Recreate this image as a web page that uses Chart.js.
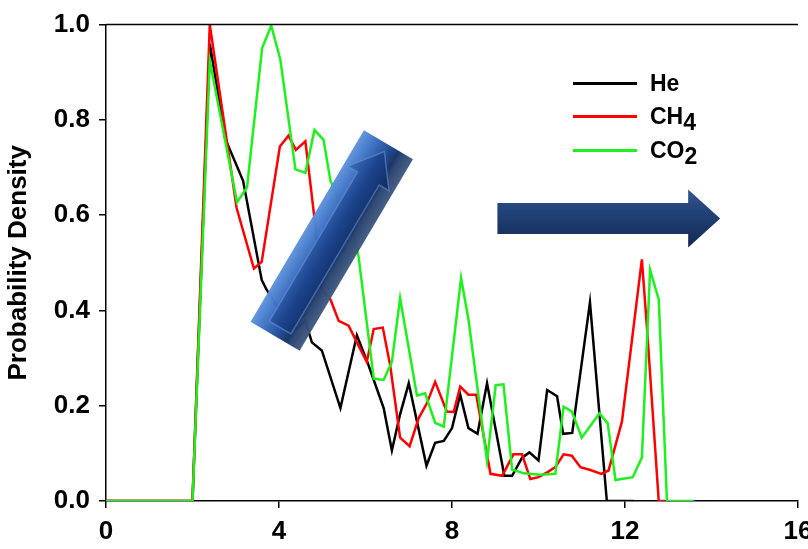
<!DOCTYPE html>
<html><head><meta charset="utf-8">
<script src="https://cdn.jsdelivr.net/npm/chart.js@4/dist/chart.umd.min.js"></script>
<style>
html,body{margin:0;padding:0;background:#fff;overflow:hidden;}
#wrap{position:relative;width:808px;height:549px;}
canvas{display:block;}
.leg{position:absolute;left:573px;height:0;font:bold 23px "Liberation Sans",Arial,sans-serif;color:#000;}
.leg .ln{position:absolute;left:0;width:64px;height:3px;top:-1.5px;}
.leg .tx{position:absolute;left:77px;top:-13px;white-space:nowrap;line-height:26px;}
.leg sub{font-size:1em;vertical-align:-0.28em;line-height:0;}
</style></head><body>
<div id="wrap"><canvas id="c" width="808" height="549"></canvas><div id="legend"></div></div>
<script>
// ---- data ----
const seriesNames = ['He', 'CH4', 'CO2'];
const seriesColors = ['#000000', '#ff0000', '#1ef01e'];

const heX = [0, 2.0, 2.4, 2.67, 2.75, 3.17, 3.60, 3.71, 3.95, 4.2, 4.42, 4.61, 4.76, 4.99, 5.42, 5.80, 6.07, 6.42, 6.61, 6.80, 7.0, 7.41, 7.61, 7.81, 8.0, 8.19, 8.38, 8.59, 8.81, 9.21, 9.39, 9.62, 9.79, 10.0, 10.2, 10.43, 10.57, 10.78, 11.19, 11.58, 12.2];
const heY = [0, 0, 0.96, 0.81, 0.762, 0.672, 0.464, 0.444, 0.41, 0.375, 0.361, 0.378, 0.333, 0.316, 0.195, 0.348, 0.285, 0.195, 0.106, 0.182, 0.247, 0.074, 0.122, 0.126, 0.153, 0.223, 0.153, 0.141, 0.247, 0.053, 0.053, 0.091, 0.102, 0.085, 0.233, 0.22, 0.141, 0.143, 0.417, 0, 0];

const ch4X = [0, 2.0, 2.4, 3.02, 3.42, 3.6, 4.02, 4.22, 4.39, 4.61, 4.80, 4.99, 5.19, 5.38, 5.61, 5.80, 6.03, 6.19, 6.40, 6.57, 6.80, 7.02, 7.23, 7.42, 7.61, 7.88, 8.04, 8.19, 8.38, 8.56, 8.89, 9.16, 9.42, 9.62, 9.81, 10.0, 10.2, 10.39, 10.58, 10.77, 10.97, 11.2, 11.45, 11.62, 11.93, 12.39, 12.51, 12.78, 12.93];
const ch4Y = [0, 0, 1.0, 0.615, 0.488, 0.502, 0.744, 0.767, 0.737, 0.755, 0.609, 0.444, 0.423, 0.378, 0.368, 0.333, 0.292, 0.361, 0.364, 0.285, 0.133, 0.115, 0.174, 0.205, 0.250, 0.188, 0.187, 0.240, 0.223, 0.223, 0.057, 0.053, 0.098, 0.098, 0.046, 0.05, 0.06, 0.071, 0.098, 0.095, 0.071, 0.065, 0.057, 0.064, 0.167, 0.507, 0.361, 0, 0];

const co2X = [0, 2.0, 2.4, 3.03, 3.26, 3.61, 3.82, 4.03, 4.38, 4.61, 4.82, 5.03, 5.19, 5.72, 5.84, 6.19, 6.42, 6.61, 6.80, 7.19, 7.38, 7.61, 7.81, 8.21, 8.38, 8.81, 9.01, 9.19, 9.39, 9.66, 10.04, 10.39, 10.58, 10.77, 11.0, 11.41, 11.60, 11.78, 12.18, 12.39, 12.58, 12.78, 12.97, 13.59];
const co2Y = [0, 0, 0.924, 0.627, 0.658, 0.951, 0.998, 0.927, 0.696, 0.689, 0.779, 0.758, 0.672, 0.561, 0.513, 0.257, 0.254, 0.292, 0.426, 0.221, 0.226, 0.164, 0.156, 0.468, 0.381, 0.084, 0.243, 0.245, 0.066, 0.058, 0.055, 0.057, 0.198, 0.188, 0.133, 0.184, 0.163, 0.044, 0.050, 0.091, 0.485, 0.423, 0, 0];

const xTicks = [0, 4, 8, 12, 16];
const yTicks = [0.0, 0.2, 0.4, 0.6, 0.8, 1.0];
const yTitle = 'Probability Density';

// ---- chart ----
const toXY = (xs, ys) => xs.map((x, i) => ({x: x, y: ys[i]}));
const subLabel = s => s.replace(/(\d)/g, d => String.fromCharCode(0x2080 + Number(d)));
const seriesData = [toXY(heX, heY), toXY(ch4X, ch4Y), toXY(co2X, co2Y)];

Chart.defaults.font.family = '"Liberation Sans", Arial, sans-serif';
Chart.defaults.color = '#000';

function drawBoxArrow(ctx, x0, y0, x1, y1, w) {
  const dx = x1 - x0, dy = y1 - y0, L = Math.hypot(dx, dy), ang = Math.atan2(dy, dx);
  ctx.save();
  ctx.translate(x0, y0); ctx.rotate(ang);
  ctx.globalAlpha = 0.97;
  const g = ctx.createLinearGradient(0, -w / 2, 0, w / 2);
  g.addColorStop(0, '#5f93dc');
  g.addColorStop(0.22, '#3f74c6');
  g.addColorStop(0.5, '#1f4f9e');
  g.addColorStop(0.72, '#132f66');
  g.addColorStop(0.8, '#2a446f');
  g.addColorStop(1, '#415a82');
  ctx.fillStyle = g;
  ctx.fillRect(0, -w / 2, L, w);
  // inner embossed arrow
  const sh = w * 0.22, hh = w * 0.42, hl = w * 0.55, tip = L - 8;
  ctx.beginPath();
  ctx.moveTo(10, -sh); ctx.lineTo(tip - hl, -sh); ctx.lineTo(tip - hl, -hh);
  ctx.lineTo(tip, 0); ctx.lineTo(tip - hl, hh); ctx.lineTo(tip - hl, sh); ctx.lineTo(10, sh);
  ctx.closePath();
  const g2 = ctx.createLinearGradient(0, -hh, 0, hh);
  g2.addColorStop(0, '#3a6cbc');
  g2.addColorStop(0.5, '#1b428a');
  g2.addColorStop(1, '#0f2b5c');
  ctx.fillStyle = g2;
  ctx.fill();
  ctx.strokeStyle = 'rgba(110,150,215,0.55)';
  ctx.lineWidth = 1.5;
  ctx.stroke();
  ctx.restore();
}

function drawFlatArrow(ctx, x0, x1, y, bodyH, headH, headL) {
  ctx.save();
  const xh = x1 - headL;
  ctx.beginPath();
  ctx.moveTo(x0, y - bodyH); ctx.lineTo(xh, y - bodyH); ctx.lineTo(xh, y - headH);
  ctx.lineTo(x1, y); ctx.lineTo(xh, y + headH); ctx.lineTo(xh, y + bodyH); ctx.lineTo(x0, y + bodyH);
  ctx.closePath();
  const g = ctx.createLinearGradient(0, y - headH, 0, y + headH);
  g.addColorStop(0, '#33578f');
  g.addColorStop(0.35, '#22437a');
  g.addColorStop(1, '#122a55');
  ctx.fillStyle = g;
  ctx.fill();
  ctx.restore();
}

const decorPlugin = {
  id: 'decor',
  afterDatasetsDraw(chart) {
    const {ctx, scales: {x, y}, chartArea: a} = chart;
    ctx.save();
    ctx.strokeStyle = '#000'; ctx.lineWidth = 1.5;
    ctx.beginPath(); ctx.moveTo(a.left, a.top); ctx.lineTo(a.right, a.top); ctx.stroke();
    ctx.restore();
    drawBoxArrow(ctx, x.getPixelForValue(3.91), y.getPixelForValue(0.346),
                 x.getPixelForValue(6.53), y.getPixelForValue(0.748), 57);
    drawFlatArrow(ctx, x.getPixelForValue(9.05), x.getPixelForValue(14.2),
                  y.getPixelForValue(0.593), 15.5, 29, 32);
  }
};

new Chart(document.getElementById('c'), {
  type: 'line',
  data: {
    datasets: seriesNames.map((n, i) => ({
      label: subLabel(n),
      data: seriesData[i],
      borderColor: seriesColors[i],
      backgroundColor: seriesColors[i],
      borderWidth: 2.5,
      pointRadius: 0,
      tension: 0,
      fill: false,
      order: seriesNames.length - i
    }))
  },
  options: {
    responsive: false,
    animation: false,
    layout: {padding: {top: 18, right: 10, left: 0, bottom: 0}},
    plugins: {legend: {display: false}, tooltip: {enabled: false}},
    scales: {
      x: {
        type: 'linear', min: 0, max: 16,
        afterBuildTicks: s => { s.ticks = xTicks.map(v => ({value: v})); },
        ticks: {font: {size: 26, weight: 'bold'}, color: '#000', padding: 8, maxRotation: 0,
                callback: v => String(v)},
        grid: {drawOnChartArea: false, drawTicks: true, tickLength: 7, color: '#000', lineWidth: 1.5},
        border: {display: true, color: '#000', width: 1.5},
        afterFit: s => { s.paddingLeft = 0; s.paddingRight = 0; s.height = 48; }
      },
      y: {
        type: 'linear', min: 0, max: 1,
        afterBuildTicks: s => { s.ticks = yTicks.map(v => ({value: v})); },
        ticks: {font: {size: 26, weight: 'bold'}, color: '#000', padding: 9,
                callback: v => Number(v).toFixed(1)},
        grid: {drawOnChartArea: false, drawTicks: true, tickLength: 7, color: '#000', lineWidth: 1.5},
        border: {display: true, color: '#000', width: 1.5},
        title: {display: true, text: yTitle, font: {size: 26, weight: 'bold'}, color: '#000',
                padding: {top: 3, bottom: 0}},
        afterFit: s => { s.width = 106; }
      }
    }
  },
  plugins: [decorPlugin]
});

// ---- legend (HTML, so subscripts stay real text) ----
const legendRowsY = [83, 116, 150];
const legendEl = document.getElementById('legend');
seriesNames.forEach((n, i) => {
  const row = document.createElement('div');
  row.className = 'leg';
  row.style.top = legendRowsY[i] + 'px';
  row.innerHTML = '<div class="ln" style="background:' + seriesColors[i] + '"></div>' +
    '<div class="tx">' + n.replace(/(\d)/g, '<sub>$1</sub>') + '</div>';
  legendEl.appendChild(row);
});
</script>
</body></html>
